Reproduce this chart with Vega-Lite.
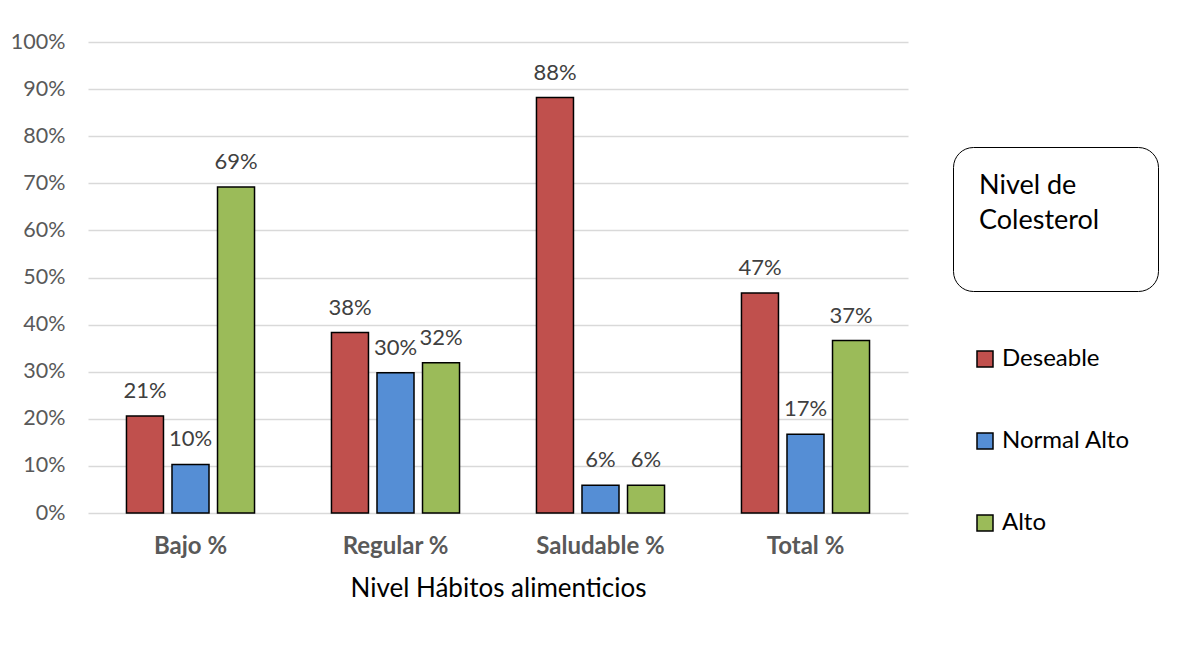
{
  "$schema": "https://vega.github.io/schema/vega-lite/v6.json",
  "width": 820,
  "height": 471,
  "autosize": {"type": "none"},
  "padding": {"left": 88, "top": 42, "right": 294, "bottom": 139},
  "background": "white",
  "config": {"view": {"stroke": null}, "font": "Lato"},
  "data": {
    "values": [
      {"habito": "Bajo %", "nivel": "Deseable", "valor": 0.206},
      {"habito": "Bajo %", "nivel": "Normal Alto", "valor": 0.103},
      {"habito": "Bajo %", "nivel": "Alto", "valor": 0.692},
      {"habito": "Regular %", "nivel": "Deseable", "valor": 0.383},
      {"habito": "Regular %", "nivel": "Normal Alto", "valor": 0.298},
      {"habito": "Regular %", "nivel": "Alto", "valor": 0.319},
      {"habito": "Saludable %", "nivel": "Deseable", "valor": 0.882},
      {"habito": "Saludable %", "nivel": "Normal Alto", "valor": 0.059},
      {"habito": "Saludable %", "nivel": "Alto", "valor": 0.059},
      {"habito": "Total %", "nivel": "Deseable", "valor": 0.467},
      {"habito": "Total %", "nivel": "Normal Alto", "valor": 0.167},
      {"habito": "Total %", "nivel": "Alto", "valor": 0.366}
    ]
  },
  "encoding": {
    "x": {
      "field": "habito",
      "type": "nominal",
      "sort": ["Bajo %", "Regular %", "Saludable %", "Total %"],
      "scale": {"paddingInner": 0.334, "paddingOuter": 0.167},
      "title": "Nivel Hábitos alimenticios",
      "axis": {
        "domain": false,
        "ticks": false,
        "labelAngle": 0,
        "labelFontWeight": "bold",
        "labelFontSize": 24,
        "labelColor": "#595959",
        "labelPadding": 21,
        "titleFontSize": 26,
        "titleFontWeight": "normal",
        "titleColor": "#000000",
        "titlePadding": 17
      }
    },
    "xOffset": {
      "field": "nivel",
      "type": "nominal",
      "sort": ["Deseable", "Normal Alto", "Alto"],
      "scale": {"paddingInner": 0.187, "paddingOuter": 0.093}
    },
    "y": {
      "field": "valor",
      "type": "quantitative",
      "scale": {"domain": [0, 1]},
      "title": null,
      "axis": {
        "values": [0, 0.1, 0.2, 0.3, 0.4, 0.5, 0.6, 0.7, 0.8, 0.9, 1],
        "format": ".0%",
        "domain": false,
        "ticks": false,
        "labelPadding": 23,
        "labelFontSize": 21.5,
        "labelColor": "#595959",
        "gridColor": "#D9D9D9",
        "gridWidth": 1.3
      }
    }
  },
  "layer": [
    {
      "mark": {"type": "bar", "strokeWidth": 1.5},
      "encoding": {
        "color": {
          "field": "nivel",
          "type": "nominal",
          "sort": ["Deseable", "Normal Alto", "Alto"],
          "scale": {
            "domain": ["Deseable", "Normal Alto", "Alto"],
            "range": ["#C0504D", "#558ED5", "#9BBB59"]
          },
          "legend": {
            "title": null,
            "orient": "none",
            "legendX": 885,
            "legendY": 305,
            "padding": 0,
            "symbolType": "square",
            "symbolSize": 256,
            "symbolStrokeColor": "#000000",
            "symbolStrokeWidth": 1.5,
            "symbolOpacity": 1,
            "labelFontSize": 24,
            "labelColor": "#000000",
            "labelOffset": 5,
            "rowPadding": 58
          }
        },
        "stroke": {
          "field": "valor",
          "type": "quantitative",
          "scale": {"range": ["#000000", "#000000"]},
          "legend": {
            "title": ["Nivel de", "Colesterol"],
            "orient": "none",
            "direction": "horizontal",
            "legendX": 865,
            "legendY": 105,
            "padding": 26,
            "strokeColor": "#000000",
            "cornerRadius": 20,
            "titleFontSize": 27,
            "titleFontWeight": "normal",
            "titleColor": "#000000",
            "titleLineHeight": 35,
            "titlePadding": 4,
            "gradientLength": 153,
            "gradientThickness": 25,
            "gradientOpacity": 0,
            "gradientStrokeWidth": 0,
            "labelExpr": "''",
            "labelOffset": 0,
            "labelFontSize": 1,
            "encoding": {"legend": {"update": {"strokeWidth": {"value": 1.5}}}}
          }
        }
      }
    },
    {
      "mark": {
        "type": "text",
        "baseline": "alphabetic",
        "dy": -18,
        "fontSize": 22,
        "color": "#404040"
      },
      "encoding": {
        "text": {"field": "valor", "type": "quantitative", "format": ".0%"}
      }
    }
  ]
}
